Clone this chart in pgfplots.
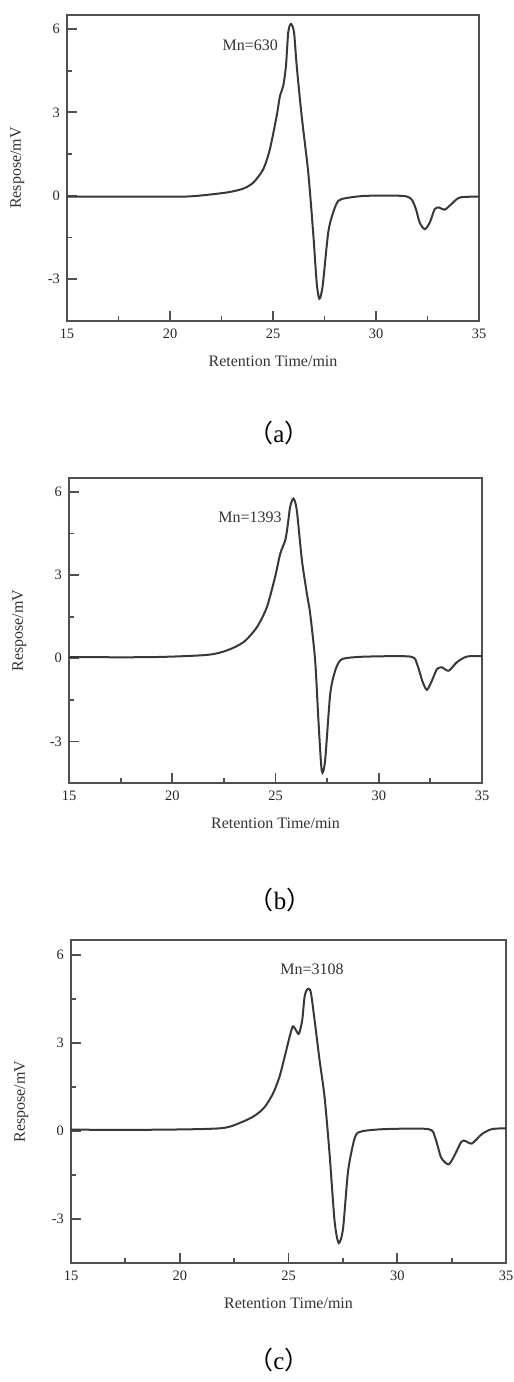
\documentclass[border=0pt]{standalone}
\usepackage{pgfplots}
\pgfplotsset{compat=1.18}
\usepackage{fontspec}
\setmainfont{Liberation Serif}
\newfontfamily\cjk{Noto Sans CJK SC}
\definecolor{curve}{HTML}{383838}
\definecolor{frame}{HTML}{505050}
\pgfplotsset{gpc/.style={
  scale only axis, anchor=north west,
  xmin=15,xmax=35,ymin=-4.5,ymax=6.5,
  xtick={15,20,25,30,35}, ytick={-3,0,3,6},
  minor xtick={17.5,22.5,27.5,32.5},
  minor ytick={-4.5,-1.5,1.5,4.5},
  tick align=inside, xtick pos=bottom, ytick pos=left,
  major tick length=5pt, minor tick length=2.5pt,
  axis line style={frame,line width=1pt},
  every tick/.style={frame,line width=0.9pt},
  tick label style={font=\fontsize{7.2}{8}\selectfont, text=black!85},
  /pgf/number format/assume math mode=true,
  xticklabel style={yshift=-0.5pt},
  label style={font=\fontsize{8}{9}\selectfont, text=black!80},
  xlabel={Retention Time/min}, ylabel={Respose/mV},
  xlabel style={yshift=-1.5pt}, ylabel style={yshift=5pt},
},
gpcline/.style={curve,line width=1pt,smooth,tension=0.45,mark=none}}
\begin{document}
\begin{tikzpicture}
\useasboundingbox (0,0) rectangle (257pt,-691pt);
% (a)
\begin{axis}[gpc, at={(33.5pt,-7.5pt)}, width=206pt, height=153pt]
\addplot[gpcline] coordinates {(15,-0.03) (19,-0.03) (20.98,-0.02) (22.75,0.12) (23.56,0.26) (24.05,0.48)
 (24.53,0.96) (24.85,1.68) (25.18,2.88) (25.34,3.6) (25.5,3.96) (25.63,4.68) (25.74,5.88)
 (25.87,6.18) (26.02,5.88) (26.15,4.68) (26.39,2.88) (26.71,0.84) (26.95,-1.32) (27.12,-3.12)
 (27.25,-3.7) (27.41,-3.24) (27.68,-1.32) (27.92,-0.6) (28.17,-0.18) (28.57,-0.08) (29.54,0)
 (31.48,-0.02) (31.88,-0.36) (32.12,-0.96) (32.37,-1.2) (32.61,-0.96) (32.85,-0.48) (33.06,-0.42)
 (33.33,-0.5) (33.66,-0.3) (34.07,-0.06) (35,-0.03)};
\node[font=\fontsize{8}{9}\selectfont, text=black!80] at (axis cs:23.9,5.42) {Mn=630};
\end{axis}
\node[font=\fontsize{12.5}{14}\selectfont] at (139.5pt,-216.5pt) {{\cjk （}a{\cjk ）}};
% (b)
\begin{axis}[gpc, at={(34.5pt,-239pt)}, width=206.5pt, height=152.5pt]
\addplot[gpcline] coordinates {(15,0.04) (19,0.04) (21.67,0.12) (22.64,0.28) (23.45,0.58) (24.1,1.12)
 (24.58,1.84) (24.98,2.93) (25.23,3.77) (25.47,4.25) (25.58,4.73) (25.71,5.46) (25.87,5.76)
 (26.03,5.34) (26.28,3.53) (26.52,2.33) (26.68,1.6) (26.92,-0.08) (27.08,-2.25) (27.24,-4.06)
 (27.4,-3.7) (27.65,-1.29) (27.89,-0.45) (28.13,-0.08) (28.46,0.01) (29.43,0.06) (31.53,0.06)
 (31.85,-0.2) (32.1,-0.8) (32.33,-1.14) (32.58,-0.8) (32.82,-0.39) (33.06,-0.33) (33.39,-0.45)
 (33.79,-0.14) (34.27,0.06) (35,0.08)};
\node[font=\fontsize{8}{9}\selectfont, text=black!80] at (axis cs:23.77,5.1) {Mn=1393};
\end{axis}
\node[font=\fontsize{12.5}{14}\selectfont] at (140pt,-450pt) {{\cjk （}b{\cjk ）}};
% (c)
\begin{axis}[gpc, at={(35.5pt,-470pt)}, width=217.5pt, height=161.5pt]
\addplot[gpcline] coordinates {(15,0.04) (19,0.04) (21.89,0.09) (22.82,0.29) (23.43,0.51) (23.89,0.8)
 (24.28,1.26) (24.58,1.83) (24.82,2.51) (25.05,3.2) (25.2,3.56) (25.35,3.42) (25.48,3.31)
 (25.63,3.77) (25.74,4.57) (25.86,4.82) (26.02,4.74) (26.2,3.77) (26.43,2.4) (26.66,1.14)
 (26.89,-0.8) (27.12,-3.08) (27.31,-3.82) (27.51,-3.31) (27.74,-1.37) (28.05,-0.23) (28.35,-0.02)
 (29.43,0.06) (31.43,0.06) (31.74,-0.23) (32.02,-0.91) (32.35,-1.14) (32.58,-0.91) (32.94,-0.38)
 (33.12,-0.34) (33.43,-0.43) (33.89,-0.11) (34.35,0.06) (35,0.09)};
\node[font=\fontsize{8}{9}\selectfont, text=black!80] at (axis cs:26.08,5.5) {Mn=3108};
\end{axis}
\node[font=\fontsize{12.5}{14}\selectfont] at (139.5pt,-680pt) {{\cjk （}c{\cjk ）}};
\end{tikzpicture}
\end{document}
